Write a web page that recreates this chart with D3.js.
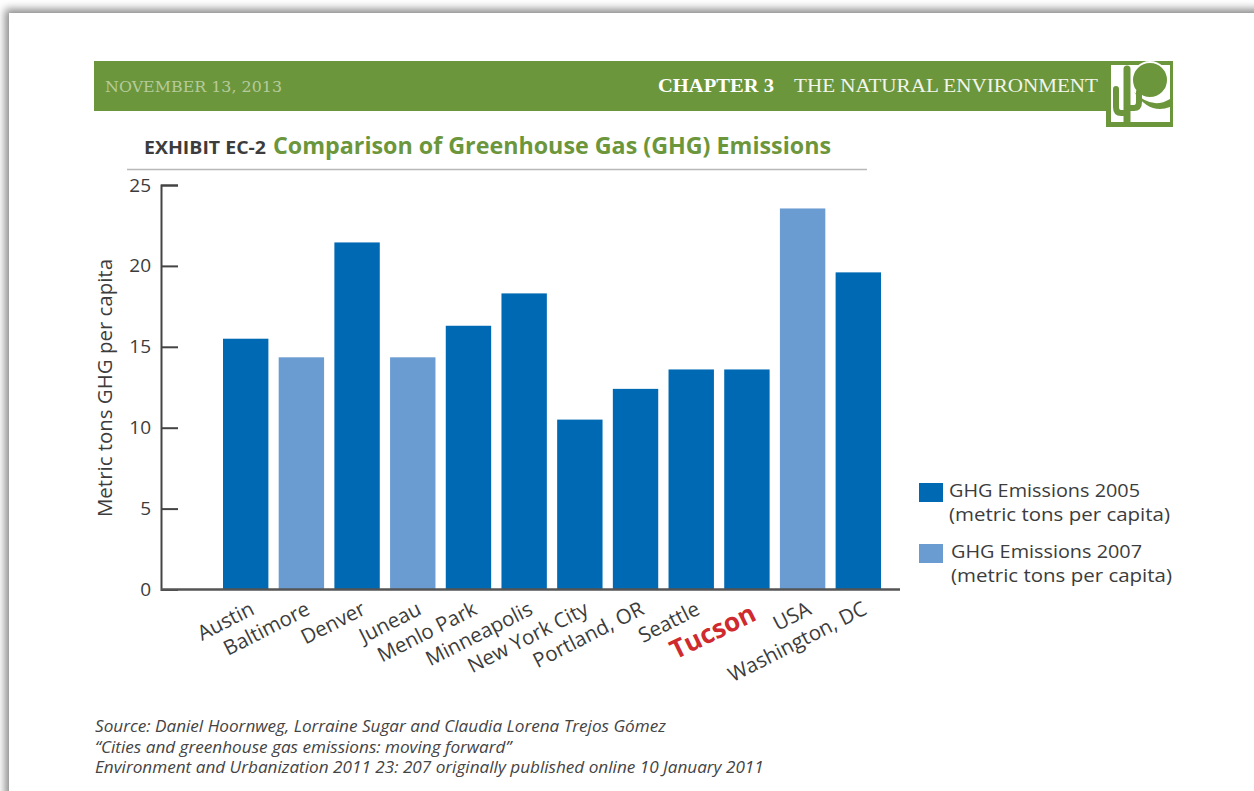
<!DOCTYPE html>
<html>
<head>
<meta charset="utf-8">
<script src="https://cdnjs.cloudflare.com/ajax/libs/d3/7.8.5/d3.min.js"></script>
<style>
html,body{margin:0;padding:0;background:#fff;overflow:hidden}
svg{display:block}
text{font-family:"Open Sans","Noto Sans",sans-serif}
</style>
</head>
<body>
<svg id="chart" width="1254" height="791"></svg>
<script>
// Per-capita greenhouse gas emissions by city
const cities = ["Austin","Baltimore","Denver","Juneau","Menlo Park","Minneapolis","New York City","Portland, OR","Seattle","Tucson","USA","Washington, DC"];
const emissions = [15.5,14.35,21.45,14.35,16.3,18.3,10.5,12.4,13.6,13.6,23.55,19.6];
const years = [2005,2007,2005,2007,2005,2005,2005,2005,2005,2005,2007,2005];
const yTicks = [0,5,10,15,20,25];
const legendYears = [2005,2007];
const sourceLines = [
  "Source: Daniel Hoornweg, Lorraine Sugar and Claudia Lorena Trejos Gómez",
  "“Cities and greenhouse gas emissions: moving forward”",
  "Environment and Urbanization 2011 23: 207 originally published online 10 January 2011"
];

const GREEN = "#6c963c", DARK = "#0069b3", LIGHT = "#6a9bd1", INK = "#3c3c3c";
const svg = d3.select("#chart");

// Page edge with its soft shadow along the top and left
const defs = svg.append("defs");
const f = defs.append("filter").attr("id","edge").attr("x","-5%").attr("y","-5%").attr("width","110%").attr("height","110%");
f.append("feGaussianBlur").attr("stdDeviation",4.5);
svg.append("rect").attr("width",1254).attr("height",791).attr("fill","#fff");
svg.append("rect").attr("x",5).attr("y",9).attr("width",1300).attr("height",850).attr("fill","#8a8a8a").attr("filter","url(#edge)");
svg.append("rect").attr("x",9).attr("y",13).attr("width",1300).attr("height",850).attr("fill","#fff");

// Running header band
svg.append("rect").attr("x",94).attr("y",61).attr("width",1079).attr("height",50).attr("fill",GREEN);
svg.append("text").attr("x",105).attr("y",92).attr("fill","#b6cb9c")
  .style("font-family","'DejaVu Serif',serif").style("font-size","15.5px").attr("textLength",177).attr("lengthAdjust","spacingAndGlyphs").text("NOVEMBER 13, 2013");
svg.append("text").attr("x",658).attr("y",92).attr("fill","#fff").attr("font-weight",700)
  .style("font-family","'Liberation Serif',serif").style("font-size","19px").attr("textLength",116).attr("lengthAdjust","spacingAndGlyphs").text("CHAPTER 3");
svg.append("text").attr("x",794).attr("y",92).attr("fill","#f2f5ec")
  .style("font-family","'Liberation Serif',serif").style("font-size","19px").attr("textLength",304).attr("lengthAdjust","spacingAndGlyphs").text("THE NATURAL ENVIRONMENT");

// Chapter emblem: a cactus under a round sun
const emblem = svg.append("g").attr("transform","translate(1106,61)");
emblem.append("rect").attr("x",0).attr("y",0).attr("width",67).attr("height",66).attr("fill",GREEN);
emblem.append("rect").attr("x",5).attr("y",4).attr("width",59).attr("height",57).attr("fill","#fff");
emblem.append("path").attr("d","M28 31Q46 49 64 38V46Q44 54 28 31Z").attr("fill",GREEN);
emblem.append("circle").attr("cx",44).attr("cy",19).attr("r",18).attr("fill",GREEN).attr("stroke","#fff").attr("stroke-width",2);
emblem.append("path").attr("d","M21 8V61").attr("fill","none").attr("stroke",GREEN).attr("stroke-width",7).attr("stroke-linecap","round");
emblem.append("path").attr("d","M21 52H15Q10 52 10 46V28M21 47H28Q33 47 33 41V31")
  .attr("fill","none").attr("stroke",GREEN).attr("stroke-width",6).attr("stroke-linecap","round");

// Exhibit heading and rule
svg.append("text").attr("x",144).attr("y",154).attr("fill",INK).attr("font-weight",700)
  .style("font-size","17.5px").attr("textLength",122).attr("lengthAdjust","spacingAndGlyphs").text("EXHIBIT EC-2");
svg.append("text").attr("x",273).attr("y",154).attr("fill",GREEN).attr("font-weight",700)
  .style("font-size","22.5px").attr("textLength",558).attr("lengthAdjust","spacingAndGlyphs").text("Comparison of Greenhouse Gas (GHG) Emissions");
svg.append("line").attr("x1",127).attr("x2",867).attr("y1",169.5).attr("y2",169.5).attr("stroke","#b8b8b8").attr("stroke-width",1.5);

// Scales
const x = d3.scaleBand().domain(cities).range([223,881]).paddingInner(0.185).paddingOuter(0);
const y = d3.scaleLinear().domain([0,25]).range([589.5,185]);

// Bars
svg.append("g").selectAll("rect").data(cities).join("rect")
  .attr("x",d=>x(d)).attr("width",x.bandwidth())
  .attr("y",(d,i)=>y(emissions[i])).attr("height",(d,i)=>y(0)-y(emissions[i]))
  .attr("fill",(d,i)=>years[i]===2005?DARK:LIGHT);

// Value axis with ticks pointing into the plot
const yAxis = svg.append("g").attr("transform","translate(161,0)")
  .call(d3.axisLeft(y).tickValues(yTicks).tickSize(-17).tickPadding(10).tickFormat(d3.format("d")));
yAxis.select(".domain").attr("stroke","#444").attr("stroke-width",2);
yAxis.selectAll(".tick line").attr("stroke","#444").attr("stroke-width",2);
yAxis.selectAll(".tick text").attr("fill",INK).style("font-size","19px").style("font-family","'Open Sans',sans-serif");

svg.append("text").attr("transform","translate(112,388) rotate(-90)").attr("text-anchor","middle")
  .attr("fill",INK).style("font-size","19.5px").attr("textLength",258).attr("lengthAdjust","spacingAndGlyphs").text("Metric tons GHG per capita");

// Category axis with slanted names
const xAxis = svg.append("g").attr("transform","translate(0,589.5)")
  .call(d3.axisBottom(x).tickSize(0).tickPadding(0));
xAxis.select(".domain").attr("d","M161,0H900").attr("stroke","#555").attr("stroke-width",2.5);
xAxis.selectAll(".tick text")
  .attr("text-anchor","end")
  .attr("fill",d=>d==="Tucson"?"#cf2a2e":INK)
  .attr("font-weight",d=>d==="Tucson"?700:400)
  .style("font-size",d=>d==="Tucson"?"26px":"20.5px")
  .attr("transform",d=>d==="Tucson"?"translate(11,30) rotate(-26)":"translate(10,24) rotate(-27)")
  .attr("dy",0).attr("y",0);

// Legend
const legend = svg.append("g").selectAll("g").data(legendYears).join("g")
  .attr("transform",(d,i)=>`translate(0,${i*61})`);
legend.append("rect").attr("x",919).attr("y",483).attr("width",24).attr("height",19)
  .attr("fill",d=>d===2005?DARK:LIGHT);
legend.append("text").attr("x",(d,i)=>949+i*2).attr("y",497).attr("fill",INK).style("font-size","18px")
  .attr("textLength",191).attr("lengthAdjust","spacingAndGlyphs").text(d=>`GHG Emissions ${d}`);
legend.append("text").attr("x",(d,i)=>949+i*2).attr("y",521).attr("fill",INK).style("font-size","18px")
  .attr("textLength",221).attr("lengthAdjust","spacingAndGlyphs").text("(metric tons per capita)");

// Source note
svg.append("g").selectAll("text").data(sourceLines).join("text")
  .attr("x",95).attr("y",(d,i)=>732+i*20.5).attr("fill","#444").attr("font-style","italic")
  .style("font-size","17.15px").text(d=>d);
</script>
</body>
</html>
